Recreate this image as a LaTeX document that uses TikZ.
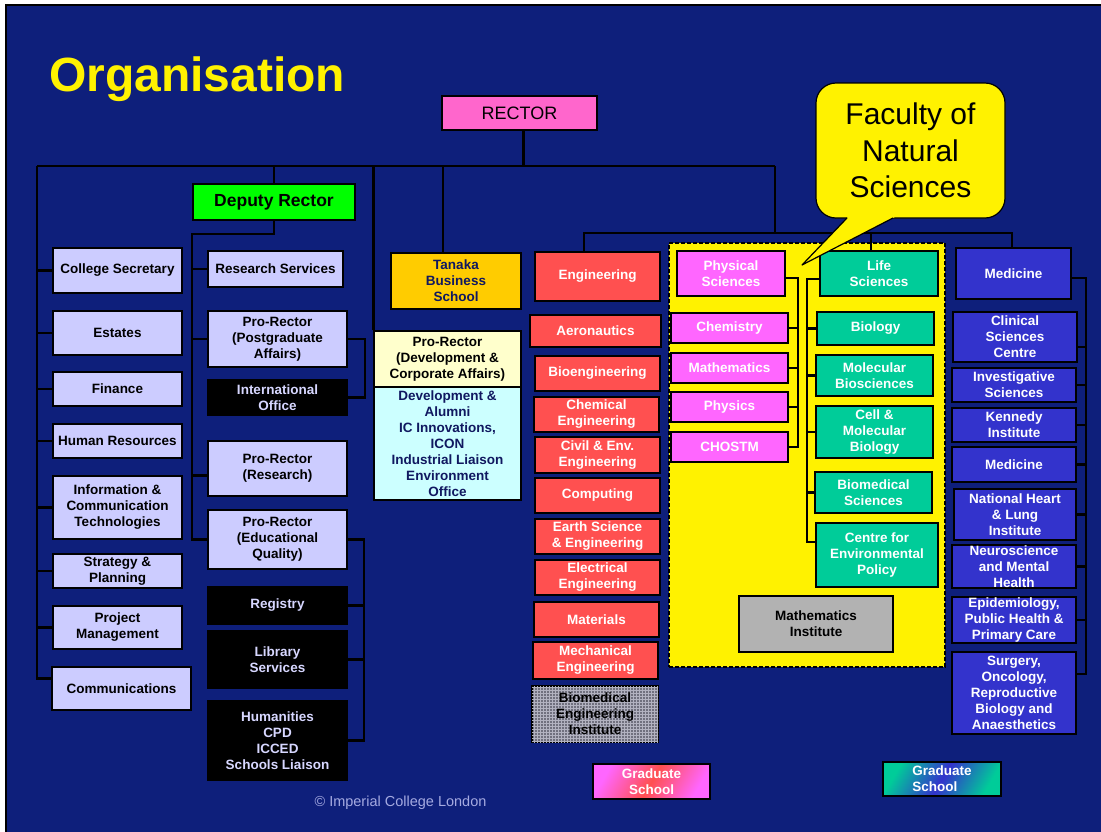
\documentclass[tikz,border=0pt]{standalone}
\usepackage{fontspec}
\setmainfont{Liberation Sans}
\usetikzlibrary{patterns}
\definecolor{bg}{RGB}{14,31,123}
\definecolor{clav}{RGB}{204,204,255}
\definecolor{crect}{RGB}{255,102,204}
\definecolor{cgreen}{RGB}{0,255,0}
\definecolor{corange}{RGB}{255,204,0}
\definecolor{cltyel}{RGB}{255,255,204}
\definecolor{cltcyan}{RGB}{204,255,255}
\definecolor{cred}{RGB}{255,80,80}
\definecolor{cmag}{RGB}{255,102,255}
\definecolor{cteal}{RGB}{0,204,153}
\definecolor{cblue}{RGB}{51,51,204}
\definecolor{cgrey}{RGB}{178,178,178}
\definecolor{cnavy}{RGB}{16,24,96}
\definecolor{cblktxt}{RGB}{215,215,255}
\definecolor{ccopy}{RGB}{165,170,225}
\definecolor{chatchbg}{RGB}{112,112,126}
\definecolor{chatchfg}{RGB}{178,178,192}
\tikzset{
  box/.style={draw=black, line width=1.2pt, inner sep=0pt, align=center,
    font=\bfseries\fontsize{13.5}{16}\selectfont},
  lav/.style={box, fill=clav, text=black},
  blk/.style={box, fill=black, text=cblktxt},
  redb/.style={box, fill=cred, text=white},
  magb/.style={box, fill=cmag, text=white},
  tealb/.style={box, fill=cteal, text=white},
  blueb/.style={box, fill=cblue, text=white},
  conn/.style={draw=black, line width=2.2pt},
}
\newcommand{\bx}[7]{\node[#6, minimum width={(#4)-(#2)}, minimum height={(#5)-(#3)}] (#1) at ({((#2)+(#4))/2},{((#3)+(#5))/2}) {#7};}
\begin{document}
\begin{tikzpicture}[x=1pt,y=-1pt]
\useasboundingbox (0,0) rectangle (1101,831);
\clip (0,0) rectangle (1101,831);
\fill[white] (0,0) rectangle (1101,831);
\draw[line width=2pt, fill=bg] (6,5) rectangle (1120,850);

% title
\node[anchor=base west, inner sep=0pt, text=yellow, font=\bfseries\fontsize{48}{48}\selectfont] (title) at (49,91) {Organisation};

% Faculty region
\node[draw=black, dash pattern=on 4pt off 2pt, fill=yellow, line width=1.2pt, inner sep=0pt,
  minimum width=276, minimum height=424] (fns) at (807,455) {};

% top
\bx{rector}{442}{96}{597}{130}{box, fill=crect, text=black, font=\fontsize{18}{20}\selectfont}{RECTOR}
\bx{dep}{193}{184}{355}{220}{box, fill=cgreen, text=black, font=\bfseries\fontsize{17.5}{20}\selectfont}{Deputy Rector}

% left column
\bx{sec}{53}{248}{182}{293}{lav}{College Secretary}
\bx{est}{53}{311}{182}{355}{lav}{Estates}
\bx{fin}{53}{372}{182}{406}{lav}{Finance}
\bx{hr}{53}{424}{182}{458}{lav}{Human Resources}
\bx{ict}{53}{476}{182}{539}{lav}{Information \&\\Communication\\Technologies}
\bx{strat}{53}{554}{182}{588}{lav}{Strategy \&\\Planning}
\bx{proj}{53}{606}{182}{649}{lav}{Project\\Management}
\bx{comm}{52}{667}{191}{710}{lav}{Communications}

% deputy column
\bx{rs}{208}{251}{343}{287}{lav}{Research Services}
\bx{pg}{208}{311}{347}{367}{lav}{Pro-Rector\\(Postgraduate\\Affairs)}
\bx{intl}{208}{380}{347}{415}{blk}{International\\Office}
\bx{prr}{208}{441}{347}{496}{lav}{Pro-Rector\\(Research)}
\bx{eq}{208}{510}{347}{569}{lav}{Pro-Rector\\(Educational\\Quality)}
\bx{reg}{208}{587}{347}{624}{blk}{Registry}
\bx{lib}{208}{631}{347}{688}{blk}{Library\\Services}
\bx{hum}{208}{701}{347}{780}{blk}{Humanities\\CPD\\ICCED\\Schools Liaison}

% centre
\bx{tanaka}{391}{253}{521}{309}{box, fill=corange, text=cnavy}{Tanaka\\Business\\School}
\bx{prdev}{374}{331}{521}{387}{box, fill=cltyel, text=black}{Pro-Rector\\(Development \&\\Corporate Affairs)}
\bx{dev}{374}{387}{521}{500}{box, fill=cltcyan, text=cnavy}{Development \&\\Alumni\\IC Innovations,\\ICON\\Industrial Liaison\\Environment\\Office}

% engineering
\bx{eng}{535}{252}{660}{301}{redb}{Engineering}
\bx{aero}{530}{315}{661}{347}{redb}{Aeronautics}
\bx{bioe}{535}{356}{660}{391}{redb}{Bioengineering}
\bx{chem}{534}{397}{659}{432}{redb}{Chemical\\Engineering}
\bx{civil}{535}{437}{660}{473}{redb}{Civil \& Env.\\Engineering}
\bx{comp}{535}{478}{660}{513}{redb}{Computing}
\bx{earth}{535}{519}{660}{554}{redb}{Earth Science\\\& Engineering}
\bx{elec}{535}{560}{660}{595}{redb}{Electrical\\Engineering}
\bx{mat}{534}{602}{659}{637}{redb}{Materials}
\bx{mech}{533}{642}{658}{679}{redb}{Mechanical\\Engineering}
\bx{bei}{532}{686}{658}{742}{box, fill=chatchbg, postaction={pattern=grid, pattern color=chatchfg}, text=black}{Biomedical\\Engineering\\Institute}
\bx{grad1}{593}{764}{710}{799}{box, left color=cmag, right color=cmag, middle color=cred, shading angle=60, text=white}{Graduate\\School}

% natural sciences
\bx{phys}{677}{251}{785}{296}{magb}{Physical\\Sciences}
\bx{chemy}{671}{313}{788}{343}{magb}{Chemistry}
\bx{math}{671}{353}{788}{383}{magb}{Mathematics}
\bx{physi}{671}{392}{788}{422}{magb}{Physics}
\bx{chostm}{671}{432}{788}{462}{magb}{CHOSTM}
\bx{life}{820}{251}{938}{296}{tealb}{Life\\Sciences}
\bx{bio}{817}{312}{934}{345}{tealb}{Biology}
\bx{molb}{816}{355}{933}{396}{tealb}{Molecular\\Biosciences}
\bx{cell}{816}{406}{933}{458}{tealb}{Cell \&\\Molecular\\Biology}
\bx{biomed}{815}{472}{932}{513}{tealb}{Biomedical\\Sciences}
\bx{cep}{816}{523}{938}{587}{tealb}{Centre for\\Environmental\\Policy}
\bx{mi}{739}{596}{893}{652}{box, fill=cgrey, text=black}{Mathematics\\Institute}

% medicine
\bx{med}{956}{248}{1071}{299}{blueb}{Medicine}
\bx{csc}{953}{312}{1077}{362}{blueb}{Clinical\\Sciences\\Centre}
\bx{inv}{952}{368}{1076}{402}{blueb}{Investigative\\Sciences}
\bx{ken}{952}{408}{1076}{442}{blueb}{Kennedy\\Institute}
\bx{med2}{952}{447}{1076}{482}{blueb}{Medicine}
\bx{nhli}{954}{489}{1076}{540}{blueb}{National Heart\\\& Lung\\Institute}
\bx{neuro}{952}{545}{1076}{588}{blueb}{Neuroscience\\and Mental\\Health}
\bx{epi}{952}{597}{1076}{643}{blueb}{Epidemiology,\\Public Health \&\\Primary Care}
\bx{surg}{952}{652}{1076}{734}{blueb}{Surgery,\\Oncology,\\Reproductive\\Biology and\\Anaesthetics}
\bx{grad2}{883}{762}{1001}{796}{box, left color=cteal, right color=cteal, middle color=cblue, shading angle=60, text=white, align=left}{Graduate\\School}

% connector coordinates
\coordinate (busL) at (37,166);
\coordinate (busR) at (775,166);
\coordinate (rcd) at ([xshift=4pt]rector.south);
\coordinate (dsp) at (192,234);
\coordinate (pgb) at (364,0);
\coordinate (tkd) at (443,166);
\coordinate (bus2L) at (584,233);
\coordinate (bus2R) at (1012,233);
\coordinate (lsd) at (871,233);
\coordinate (pb) at (798,0);
\coordinate (lb) at (807,0);
\coordinate (mb) at (1086,0);
\coordinate (commw) at ([yshift=10pt]comm.west);
\coordinate (prrw) at ([yshift=-7pt]prr.west);
\coordinate (tkn) at (tkd |- tanaka.north);
\coordinate (physe) at ([yshift=-4.5pt]phys.east);
\coordinate (lifew) at ([yshift=-5.5pt]life.west);
\coordinate (cepw) at ([yshift=13pt]cep.west);
\coordinate (mede) at ([yshift=-4.5pt]med.east);
\coordinate (csce) at ([yshift=-10pt]csc.east);
\coordinate (surge) at ([yshift=19pt]surg.east);

% connectors
\draw[conn] (rcd) -- (rcd |- busL);
\draw[conn] (busL) -- (busR);
\draw[conn] (busL) |- (commw);
\foreach \n in {sec,est,fin,hr,ict,strat,proj} \draw[conn] (busL |- \n.west) -- (\n.west);
\draw[conn] (dep.north) -- (dep.north |- busL);
\draw[conn] (dep.south) |- (dsp) |- (eq.west);
\foreach \n in {rs,pg} \draw[conn] (dsp |- \n.west) -- (\n.west);
\draw[conn] (dsp |- prrw) -- (prrw);
\draw[conn] (pg.east) -- ++(17,0) |- (intl.east);
\draw[conn] (eq.east) -| (pgb |- hum.east) -- (hum.east);
\foreach \n in {reg,lib} \draw[conn] (\n.east) -- (pgb |- \n.east);
\draw[conn] (prdev.north west) -- (prdev.north west |- busL);
\draw[conn] (tkd) -- (tkn);
\draw[conn] (busR) -- (busR |- bus2L);
\draw[conn] (bus2L |- eng.north) -- (bus2L) -- (bus2R) -- (bus2R |- med.north);
\draw[conn] (lsd) -- (lsd |- life.north);
\draw[conn] (physe) -| (pb |- chostm.east) -- (chostm.east);
\foreach \n in {chemy,math,physi} \draw[conn] (\n.east) -- (pb |- \n.east);
\draw[conn] (lifew) -| (lb |- cepw) -- (cepw);
\foreach \n in {bio,molb,cell,biomed} \draw[conn] (\n.west) -- (lb |- \n.west);
\draw[conn] (mede) -| (mb |- surge) -- (surge);
\draw[conn] (csce) -- (mb |- csce);
\foreach \n in {inv,ken,med2,nhli,neuro,epi} \draw[conn] (\n.east) -- (mb |- \n.east);

% callout
\node[draw=black, fill=yellow, line width=1.2pt, rounded corners=20pt, inner sep=0pt,
  minimum width=189, minimum height=135, align=center,
  font=\fontsize{30}{36.5}\selectfont] (fac) at (910.5,150.5) {Faculty of\\Natural\\Sciences};
\coordinate (ptip) at (802,265);
\fill[yellow] (850.8,214) -- (ptip) -- (900.7,214) -- cycle;
\draw[line width=1.2pt, line join=round] (847,218) -- (ptip) -- (893,218);

% copyright
\node[text=ccopy, font=\fontsize{14.5}{16}\selectfont] (copy) at (400.5,803) {© Imperial College London};
\end{tikzpicture}
\end{document}
